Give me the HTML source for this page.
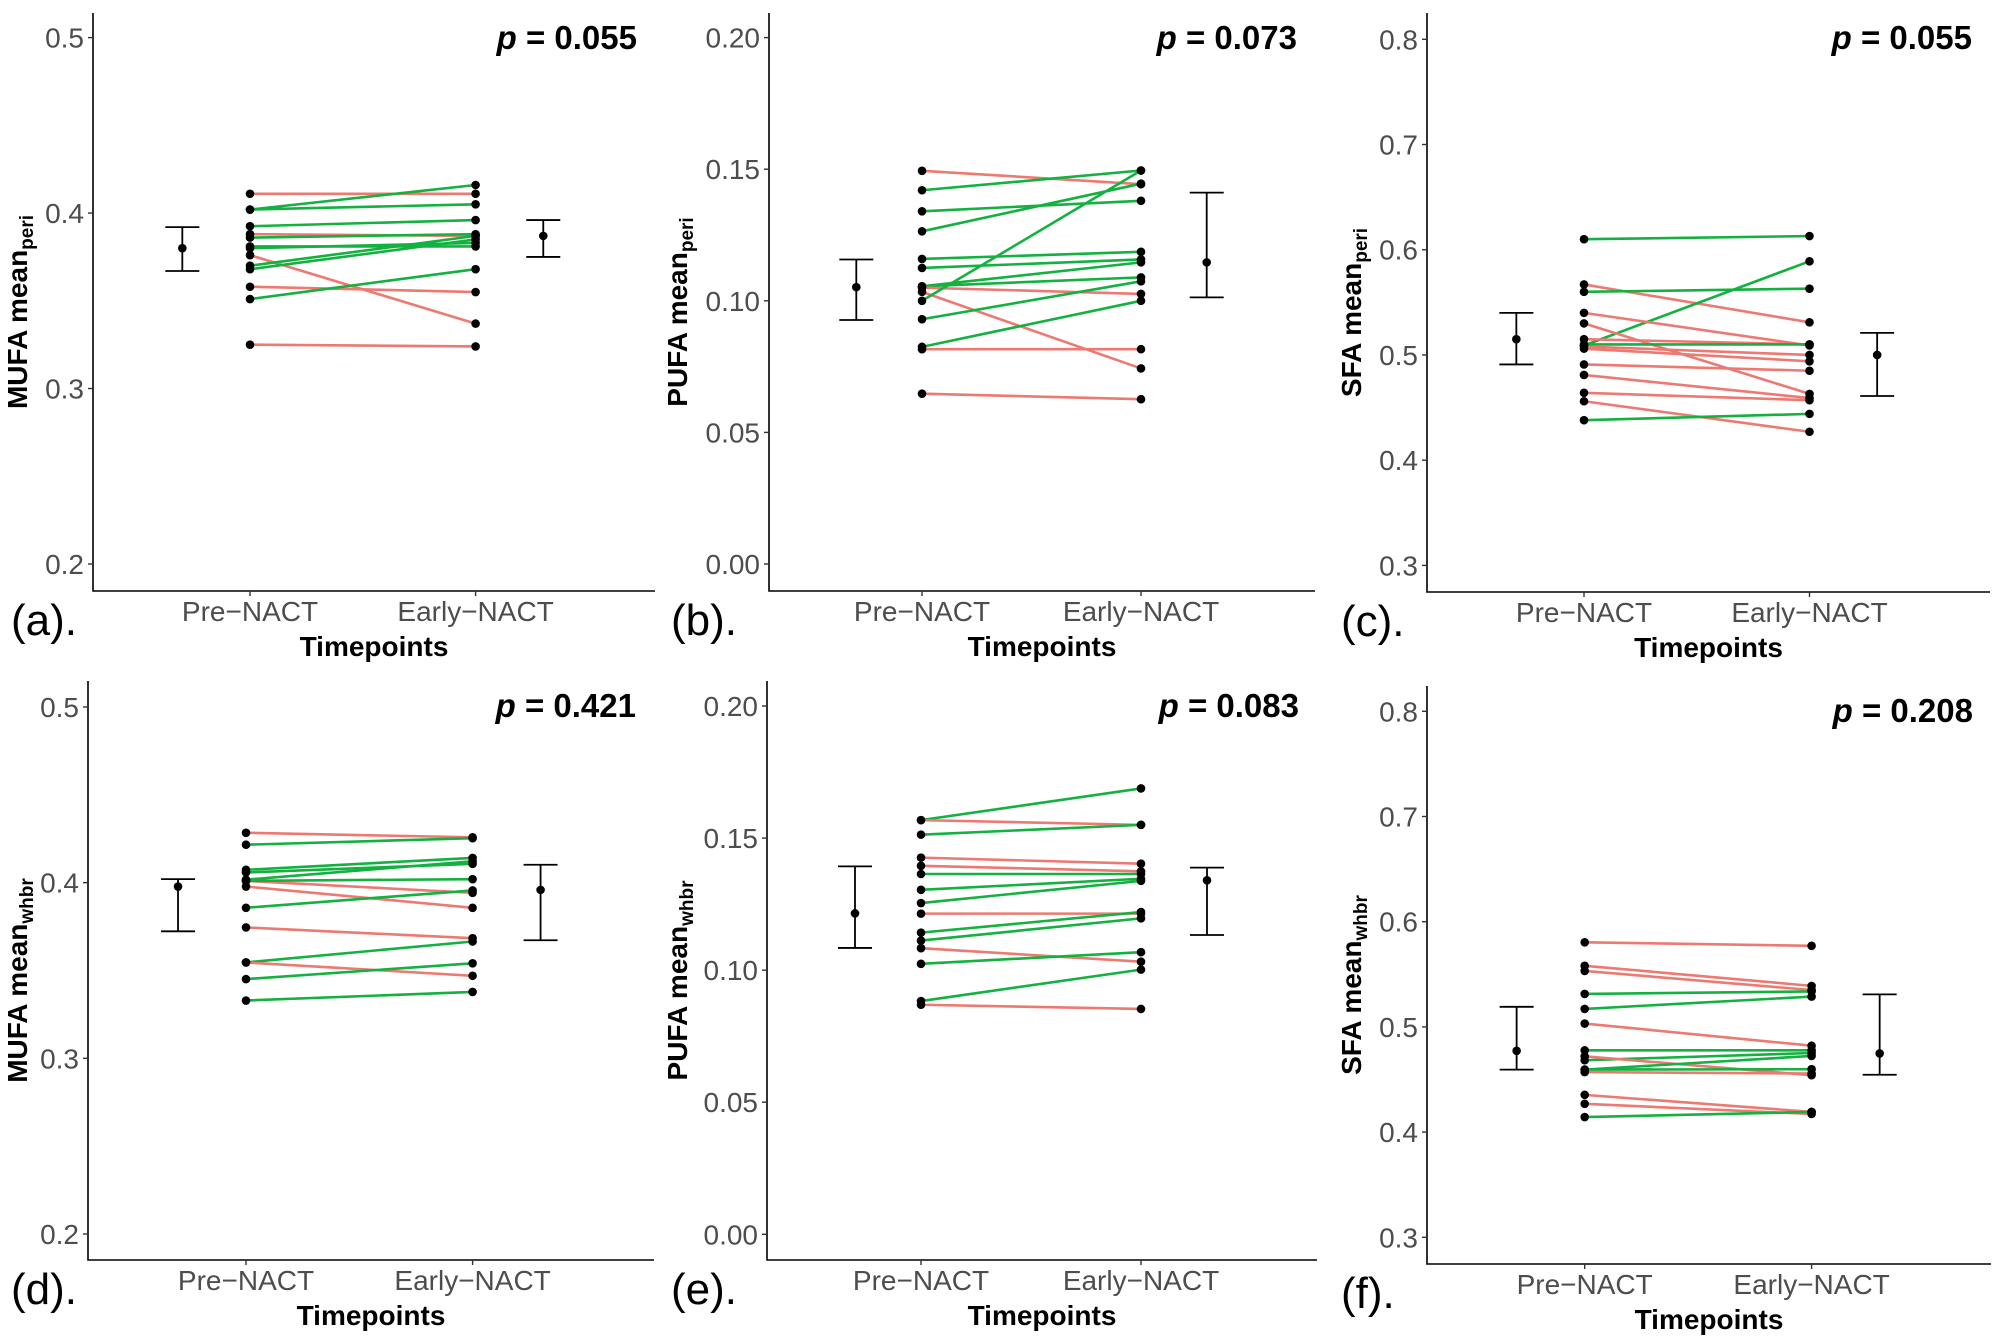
<!DOCTYPE html>
<html><head><meta charset="utf-8"><style>
html,body{margin:0;padding:0;background:#fff;}
svg{display:block;font-family:"Liberation Sans",Arial,sans-serif;}
</style></head><body>
<svg id="fig" width="2000" height="1342" viewBox="0 0 2000 1342" xmlns="http://www.w3.org/2000/svg"></svg>
<script>
// ---- data (pre value, early value, direction) ----
const preA=[0.411,0.402,0.402,0.3925,0.388,0.386,0.381,0.380,0.376,0.370,0.368,0.358,0.351,0.325];
const earlyA=[0.411,0.416,0.405,0.396,0.387,0.388,0.381,0.383,0.337,0.387,0.385,0.355,0.368,0.324];
const preB=[0.1494,0.142,0.134,0.1264,0.1159,0.1125,0.1055,0.1055,0.105,0.1034,0.100,0.093,0.0825,0.0816,0.0647];
const earlyB=[0.1443,0.1495,0.138,0.1445,0.1186,0.1157,0.1089,0.1146,0.1026,0.0743,0.1495,0.1074,0.100,0.0816,0.0626];
const preC=[0.610,0.567,0.560,0.509,0.540,0.530,0.515,0.510,0.508,0.506,0.491,0.481,0.464,0.456,0.438];
const earlyC=[0.613,0.531,0.563,0.589,0.509,0.463,0.510,0.510,0.500,0.494,0.485,0.459,0.457,0.427,0.444];
const preD=[0.4284,0.4216,0.4073,0.4058,0.4017,0.401,0.401,0.3978,0.3857,0.3745,0.3546,0.3546,0.3451,0.3329];
const earlyD=[0.4258,0.4253,0.4141,0.4107,0.4122,0.3942,0.402,0.3857,0.3956,0.3684,0.3665,0.347,0.3541,0.3378];
const preE=[0.1568,0.1568,0.1513,0.1426,0.1395,0.1364,0.1304,0.1254,0.1214,0.1142,0.1112,0.1083,0.1024,0.0883,0.0869];
const earlyE=[0.1688,0.155,0.155,0.1403,0.1374,0.1364,0.1346,0.1338,0.1214,0.122,0.1196,0.1032,0.1068,0.1002,0.0853];
const preF=[0.5804,0.5581,0.5532,0.5313,0.5171,0.5032,0.4777,0.4683,0.472,0.4594,0.4594,0.457,0.4354,0.4269,0.4143];
const earlyF=[0.5771,0.539,0.535,0.5337,0.5288,0.4821,0.4777,0.4752,0.4541,0.4724,0.4598,0.4557,0.4192,0.4172,0.4192];
// colour group: 'd' = decrease (red), 'i' = increase (green)
const dirA=['d','i','i','i','d','i','i','i','d','i','i','d','i','d'];
const dirB=['d','i','i','i','i','i','i','i','d','d','i','i','i','d','d'];
const dirC=['i','d','i','i','d','d','d','i','d','d','d','d','d','d','i'];
const dirD=['d','i','i','i','i','d','i','d','i','d','i','d','i','i'];
const dirE=['i','d','i','d','d','i','i','i','d','i','i','d','i','i','d'];
const dirF=['d','d','d','i','i','d','i','i','d','i','i','d','d','d','i'];
// summary: [mean, low, high] for pre and early
const sumPreA=[0.380,0.367,0.392], sumEarlyA=[0.387,0.375,0.396];
const sumPreB=[0.1052,0.0927,0.1157], sumEarlyB=[0.1146,0.1013,0.1411];
const sumPreC=[0.515,0.491,0.540], sumEarlyC=[0.500,0.461,0.521];
const sumPreD=[0.3978,0.3723,0.402], sumEarlyD=[0.3959,0.3672,0.4102];
const sumPreE=[0.1215,0.1084,0.1393], sumEarlyE=[0.134,0.1133,0.1388];
const sumPreF=[0.4773,0.4594,0.5191], sumEarlyF=[0.4748,0.4545,0.5309];
const ticksMUFA=['0.2','0.3','0.4','0.5'];
const ticksPUFA=['0.00','0.05','0.10','0.15','0.20'];
const ticksSFA=['0.3','0.4','0.5','0.6','0.7','0.8'];
const categories=['Pre\u2212NACT','Early\u2212NACT'];
const pvals=['0.055','0.073','0.055','0.421','0.083','0.208'];

const NS='http://www.w3.org/2000/svg';
const svg=document.getElementById('fig');
function mk(tag,attrs,parent){const e=document.createElementNS(NS,tag);for(const k in attrs)e.setAttribute(k,attrs[k]);(parent||svg).appendChild(e);return e;}

const panels=[
 {id:'a',ox:0,xL:93,xR:655,yT:13,yB:591,tLo:564,tHi:37.6,vLo:0.2,vHi:0.5,px:250,ex:475.6,ticks:ticksMUFA,pre:preA,early:earlyA,dir:dirA,sp:sumPreA,se:sumEarlyA,name:'MUFA',sub:'peri',tx:17},
 {id:'b',ox:660,xL:769,xR:1315,yT:13,yB:591,tLo:564,tHi:37.6,vLo:0,vHi:0.2,px:922,ex:1141,ticks:ticksPUFA,pre:preB,early:earlyB,dir:dirB,sp:sumPreB,se:sumEarlyB,name:'PUFA',sub:'peri',tx:677},
 {id:'c',ox:1330,xL:1427,xR:1990,yT:13,yB:592,tLo:565.4,tHi:39.3,vLo:0.3,vHi:0.8,px:1584,ex:1809.5,ticks:ticksSFA,pre:preC,early:earlyC,dir:dirC,sp:sumPreC,se:sumEarlyC,name:'SFA',sub:'peri',tx:1351},
 {id:'d',ox:0,xL:88,xR:654,yT:681,yB:1260,tLo:1234,tHi:707,vLo:0.2,vHi:0.5,px:246,ex:472.6,ticks:ticksMUFA,pre:preD,early:earlyD,dir:dirD,sp:sumPreD,se:sumEarlyD,name:'MUFA',sub:'whbr',tx:17},
 {id:'e',ox:660,xL:767,xR:1317,yT:681,yB:1260,tLo:1234.3,tHi:706,vLo:0,vHi:0.2,px:921,ex:1141,ticks:ticksPUFA,pre:preE,early:earlyE,dir:dirE,sp:sumPreE,se:sumEarlyE,name:'PUFA',sub:'whbr',tx:677},
 {id:'f',ox:1330,xL:1427,xR:1991,yT:686,yB:1264,tLo:1237.3,tHi:711.3,vLo:0.3,vHi:0.8,px:1584.7,ex:1811.6,ticks:ticksSFA,pre:preF,early:earlyF,dir:dirF,sp:sumPreF,se:sumEarlyF,name:'SFA',sub:'whbr',tx:1351}
];
const RED='#ec7a72', GREEN='#13b13f';

panels.forEach((p,pi)=>{
  const g=mk('g',{});
  
  
  const y=v=>p.tLo-(v-p.vLo)/(p.vHi-p.vLo)*(p.tLo-p.tHi);
  const xs=[p.px,p.ex];
  const off=0.3*(p.ex-p.px);
  const ax=mk('path',{d:`M${p.xL},${p.yT} L${p.xL},${p.yB} L${p.xR},${p.yB}`,fill:'none',stroke:'#000','stroke-width':1.6},g);
  
  
  p.ticks.forEach(t=>{
    const yy=y(parseFloat(t));
    mk('line',{x1:p.xL-5,x2:p.xL,y1:yy,y2:yy,stroke:'#333','stroke-width':1.4},g);
    const tl=mk('text',{x:p.xL-9,y:yy+10,'text-anchor':'end','font-size':28,fill:'#4d4d4d'},g);
    tl.textContent=t;
    
    
  });
  categories.forEach((c,i)=>{
    mk('line',{x1:xs[i],x2:xs[i],y1:p.yB,y2:p.yB+5,stroke:'#333','stroke-width':1.4},g);
    const xl=mk('text',{x:xs[i],y:p.yB+30,'text-anchor':'middle','font-size':28,fill:'#4d4d4d'},g);
    xl.textContent=c;
    
    
  });
  const xt=mk('text',{x:(p.xL+p.xR)/2,y:p.yB+65,'text-anchor':'middle','font-size':28,'font-weight':'bold',fill:'#000'},g);
  xt.textContent='Timepoints';
  
  
  const cy=(p.yT+p.yB)/2+10;
  const yt=mk('text',{x:p.tx+10,y:cy,'text-anchor':'middle','font-size':28,'font-weight':'bold',fill:'#000',transform:`rotate(-90 ${p.tx+10} ${cy})`},g);
  
  
  const t1=mk('tspan',{},yt); t1.textContent=p.name+' mean';
  const t2=mk('tspan',{'font-size':19,dy:6},yt); t2.textContent=p.sub;
  const lab=mk('text',{x:p.ox+11,y:p.yB+44,'font-size':44,fill:'#000'},g);
  lab.textContent='('+p.id+').';
  
  
  const pv=mk('text',{x:p.xR-18,y:p.yT+36,'text-anchor':'end','font-size':33,'font-weight':'bold',fill:'#000'},g);
  
  
  const pi1=mk('tspan',{'font-style':'italic'},pv); pi1.textContent='p';
  const pi2=mk('tspan',{},pv); pi2.textContent=' = '+pvals[pi];
  p.pre.forEach((v,i)=>{
    const ln=mk('line',{x1:p.px,y1:y(v),x2:p.ex,y2:y(p.early[i]),stroke:p.dir[i]==='d'?RED:GREEN,'stroke-width':2.6},g);
    
    
  });
  p.pre.forEach((v,i)=>{
    [[p.px,v],[p.ex,p.early[i]]].forEach(([xx,vv])=>{
      const c=mk('circle',{cx:xx,cy:y(vv),r:4.3,fill:'#000'},g);
      
      
    });
  });
  [[p.px-off,p.sp],[p.ex+off,p.se]].forEach(([xx,s])=>{
    const eb=mk('g',{},g);
    
    
    mk('line',{x1:xx,x2:xx,y1:y(s[1]),y2:y(s[2]),stroke:'#000','stroke-width':1.8},eb);
    mk('line',{x1:xx-17,x2:xx+17,y1:y(s[1]),y2:y(s[1]),stroke:'#000','stroke-width':1.8},eb);
    mk('line',{x1:xx-17,x2:xx+17,y1:y(s[2]),y2:y(s[2]),stroke:'#000','stroke-width':1.8},eb);
    mk('circle',{cx:xx,cy:y(s[0]),r:4.3,fill:'#000'},eb);
  });
});
</script>
</body></html>
